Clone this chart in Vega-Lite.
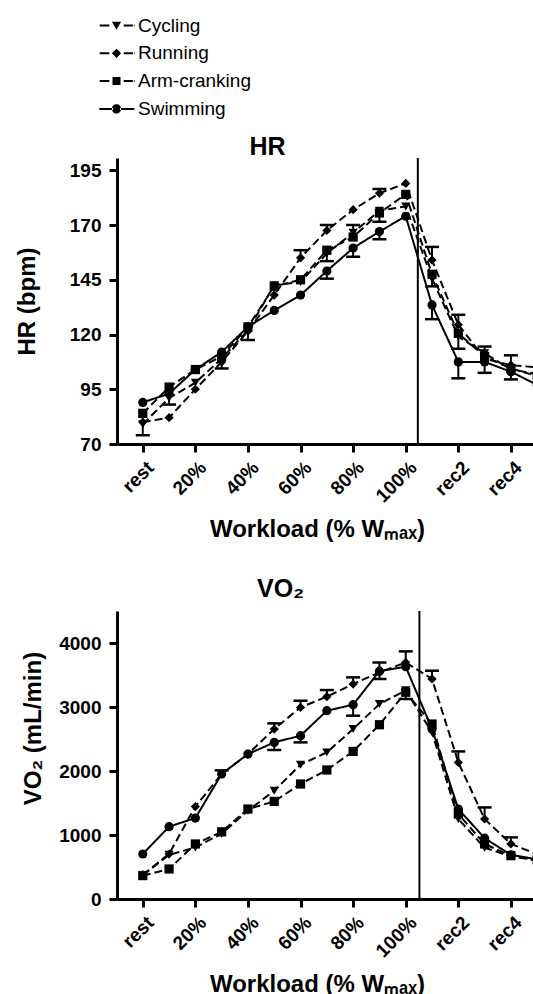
{
  "$schema": "https://vega.github.io/schema/vega-lite/v6.json",
  "background": "white",
  "padding": {"left": 15, "top": 16, "right": 0, "bottom": 0},
  "bounds": "flush",
  "spacing": 167,
  "config": {
    "font": "Liberation Sans",
    "view": {"stroke": null},
    "axis": {
      "grid": false,
      "domainColor": "black", "domainWidth": 3,
      "tickColor": "black", "tickWidth": 3, "tickSize": 8,
      "labelFont": "Liberation Sans", "labelFontWeight": "bold", "labelFontSize": 19, "labelColor": "black",
      "labelOverlap": false, "labelBound": false, "labelFlush": false,
      "titleFont": "Liberation Sans", "titleFontWeight": "bold", "titleFontSize": 24, "titleColor": "black"
    },
    "title": {"font": "Liberation Sans", "fontWeight": "bold", "fontSize": 25, "color": "black", "frame": "group", "anchor": "start"}
  },
  "datasets": {
    "legend": [
      {"series": "Cycling"}, {"series": "Running"}, {"series": "Arm-cranking"}, {"series": "Swimming"}
    ],
    "hr": [
      {"series":"Cycling","idx":0,"v":79},{"series":"Running","idx":0,"v":80},{"series":"Arm-cranking","idx":0,"v":84},{"series":"Swimming","idx":0,"v":89},
      {"series":"Cycling","idx":1,"v":91},{"series":"Running","idx":1,"v":82},{"series":"Arm-cranking","idx":1,"v":96},{"series":"Swimming","idx":1,"v":93},
      {"series":"Cycling","idx":2,"v":98},{"series":"Running","idx":2,"v":95},{"series":"Arm-cranking","idx":2,"v":104},{"series":"Swimming","idx":2,"v":104},
      {"series":"Cycling","idx":3,"v":109},{"series":"Running","idx":3,"v":107.5},{"series":"Arm-cranking","idx":3,"v":110},{"series":"Swimming","idx":3,"v":112},
      {"series":"Cycling","idx":4,"v":122},{"series":"Running","idx":4,"v":121.5},{"series":"Arm-cranking","idx":4,"v":123.5},{"series":"Swimming","idx":4,"v":123.5},
      {"series":"Cycling","idx":5,"v":142.5},{"series":"Running","idx":5,"v":138},{"series":"Arm-cranking","idx":5,"v":142},{"series":"Swimming","idx":5,"v":131},
      {"series":"Cycling","idx":6,"v":144},{"series":"Running","idx":6,"v":155},{"series":"Arm-cranking","idx":6,"v":145},{"series":"Swimming","idx":6,"v":138},
      {"series":"Cycling","idx":7,"v":157},{"series":"Running","idx":7,"v":167.5},{"series":"Arm-cranking","idx":7,"v":158.5},{"series":"Swimming","idx":7,"v":149},
      {"series":"Cycling","idx":8,"v":166.5},{"series":"Running","idx":8,"v":177},{"series":"Arm-cranking","idx":8,"v":164.5},{"series":"Swimming","idx":8,"v":159.5},
      {"series":"Cycling","idx":9,"v":176.5},{"series":"Running","idx":9,"v":184.5},{"series":"Arm-cranking","idx":9,"v":175.5},{"series":"Swimming","idx":9,"v":167},
      {"series":"Cycling","idx":10,"v":178.5},{"series":"Running","idx":10,"v":189},{"series":"Arm-cranking","idx":10,"v":184},{"series":"Swimming","idx":10,"v":174},
      {"series":"Cycling","idx":11,"v":145.5},{"series":"Running","idx":11,"v":154},{"series":"Arm-cranking","idx":11,"v":147.5},{"series":"Swimming","idx":11,"v":133.5},
      {"series":"Cycling","idx":12,"v":119},{"series":"Running","idx":12,"v":124.5},{"series":"Arm-cranking","idx":12,"v":120.5},{"series":"Swimming","idx":12,"v":107.5},
      {"series":"Cycling","idx":13,"v":111.5},{"series":"Running","idx":13,"v":109},{"series":"Arm-cranking","idx":13,"v":110},{"series":"Swimming","idx":13,"v":107.5},
      {"series":"Cycling","idx":14,"v":104},{"series":"Running","idx":14,"v":106},{"series":"Arm-cranking","idx":14,"v":104.5},{"series":"Swimming","idx":14,"v":103},
      {"series":"Cycling","idx":15,"v":102},{"series":"Running","idx":15,"v":105},{"series":"Arm-cranking","idx":15,"v":101},{"series":"Swimming","idx":15,"v":97}
    ],
    "hrerr": [
      {"series":"Cycling","idx":0,"v":79,"e":74},
      {"series":"Cycling","idx":1,"v":91,"e":88},
      {"series":"Running","idx":3,"v":107.5,"e":104.5},
      {"series":"Cycling","idx":4,"v":122,"e":117.5},
      {"series":"Running","idx":6,"v":155,"e":158.5},
      {"series":"Running","idx":7,"v":167.5,"e":170},
      {"series":"Arm-cranking","idx":7,"v":158.5,"e":153.5},
      {"series":"Swimming","idx":7,"v":149,"e":145.5},
      {"series":"Cycling","idx":8,"v":166.5,"e":170},
      {"series":"Swimming","idx":8,"v":159.5,"e":155.5},
      {"series":"Running","idx":9,"v":184.5,"e":186.5},
      {"series":"Arm-cranking","idx":9,"v":175.5,"e":171.5},
      {"series":"Swimming","idx":9,"v":167,"e":163.5},
      {"series":"Running","idx":11,"v":154,"e":160},
      {"series":"Arm-cranking","idx":11,"v":147.5,"e":142},
      {"series":"Swimming","idx":11,"v":133.5,"e":127},
      {"series":"Running","idx":12,"v":124.5,"e":129},
      {"series":"Arm-cranking","idx":12,"v":120.5,"e":113.5},
      {"series":"Swimming","idx":12,"v":107.5,"e":100},
      {"series":"Cycling","idx":13,"v":111.5,"e":114.5},
      {"series":"Swimming","idx":13,"v":107.5,"e":102.5},
      {"series":"Running","idx":14,"v":106,"e":110.5},
      {"series":"Arm-cranking","idx":14,"v":104.5,"e":99.5}
    ],
    "vo2": [
      {"series":"Cycling","idx":0,"v":370},{"series":"Running","idx":0,"v":380},{"series":"Arm-cranking","idx":0,"v":365},{"series":"Swimming","idx":0,"v":703},
      {"series":"Cycling","idx":1,"v":690},{"series":"Running","idx":1,"v":703},{"series":"Arm-cranking","idx":1,"v":469},{"series":"Swimming","idx":1,"v":1130},
      {"series":"Cycling","idx":2,"v":806},{"series":"Running","idx":2,"v":1445},{"series":"Arm-cranking","idx":2,"v":860},{"series":"Swimming","idx":2,"v":1265},
      {"series":"Cycling","idx":3,"v":1020},{"series":"Running","idx":3,"v":1953},{"series":"Arm-cranking","idx":3,"v":1050},{"series":"Swimming","idx":3,"v":1953},
      {"series":"Cycling","idx":4,"v":1380},{"series":"Running","idx":4,"v":2265},{"series":"Arm-cranking","idx":4,"v":1406},{"series":"Swimming","idx":4,"v":2265},
      {"series":"Cycling","idx":5,"v":1692},{"series":"Running","idx":5,"v":2656},{"series":"Arm-cranking","idx":5,"v":1525},{"series":"Swimming","idx":5,"v":2447},
      {"series":"Cycling","idx":6,"v":2098},{"series":"Running","idx":6,"v":2994},{"series":"Arm-cranking","idx":6,"v":1797},{"series":"Swimming","idx":6,"v":2552},
      {"series":"Cycling","idx":7,"v":2291},{"series":"Running","idx":7,"v":3161},{"series":"Arm-cranking","idx":7,"v":2016},{"series":"Swimming","idx":7,"v":2942},
      {"series":"Cycling","idx":8,"v":2656},{"series":"Running","idx":8,"v":3359},{"series":"Arm-cranking","idx":8,"v":2306},{"series":"Swimming","idx":8,"v":3036},
      {"series":"Cycling","idx":9,"v":3047},{"series":"Running","idx":9,"v":3541},{"series":"Arm-cranking","idx":9,"v":2723},{"series":"Swimming","idx":9,"v":3560},
      {"series":"Cycling","idx":10,"v":3260},{"series":"Running","idx":10,"v":3697},{"series":"Arm-cranking","idx":10,"v":3230},{"series":"Swimming","idx":10,"v":3630},
      {"series":"Cycling","idx":11,"v":2603},{"series":"Running","idx":11,"v":3438},{"series":"Arm-cranking","idx":11,"v":2734},{"series":"Swimming","idx":11,"v":2656},
      {"series":"Cycling","idx":12,"v":1250},{"series":"Running","idx":12,"v":2134},{"series":"Arm-cranking","idx":12,"v":1328},{"series":"Swimming","idx":12,"v":1406},
      {"series":"Cycling","idx":13,"v":800},{"series":"Running","idx":13,"v":1250},{"series":"Arm-cranking","idx":13,"v":860},{"series":"Swimming","idx":13,"v":950},
      {"series":"Cycling","idx":14,"v":670},{"series":"Running","idx":14,"v":860},{"series":"Arm-cranking","idx":14,"v":677},{"series":"Swimming","idx":14,"v":690},
      {"series":"Cycling","idx":15,"v":600},{"series":"Running","idx":15,"v":700},{"series":"Arm-cranking","idx":15,"v":610},{"series":"Swimming","idx":15,"v":620}
    ],
    "vo2err": [
      {"series":"Running","idx":3,"v":1953,"e":2010},
      {"series":"Running","idx":5,"v":2656,"e":2744},
      {"series":"Swimming","idx":5,"v":2447,"e":2328},
      {"series":"Running","idx":6,"v":2994,"e":3098},
      {"series":"Swimming","idx":6,"v":2552,"e":2447},
      {"series":"Running","idx":7,"v":3161,"e":3265},
      {"series":"Running","idx":8,"v":3359,"e":3463},
      {"series":"Swimming","idx":8,"v":3036,"e":2864},
      {"series":"Running","idx":9,"v":3541,"e":3697},
      {"series":"Swimming","idx":9,"v":3560,"e":3438},
      {"series":"Running","idx":10,"v":3697,"e":3869},
      {"series":"Arm-cranking","idx":10,"v":3230,"e":3125},
      {"series":"Running","idx":11,"v":3438,"e":3567},
      {"series":"Running","idx":12,"v":2134,"e":2306},
      {"series":"Running","idx":13,"v":1250,"e":1431},
      {"series":"Running","idx":14,"v":860,"e":963}
    ]
  },
  "resolve": {"scale": {"shape": "independent"}, "legend": {"shape": "independent"}},
  "vconcat": [
    {
      "width": 416,
      "height": 286,
      "resolve": {"scale": {"shape": "independent"}, "legend": {"shape": "independent"}, "axis": {"x": "independent"}},
      "layer": [
        {
          "data": {"name": "hr"},
          "mark": {"type": "line", "color": "black", "strokeWidth": 2, "clip": true},
          "encoding": {
            "x": {"field": "idx", "type": "quantitative", "scale": {"domain": [-0.98, 14.84], "nice": false, "zero": false},
              "axis": {"values": [0, 2, 4, 6, 8, 10, 12, 14], "labelExpr": "datum.value == 0 ? 'rest' : datum.value <= 10 ? (datum.value * 10) + '%' : 'rec' + (datum.value - 10)", "labelAngle": -45, "labelAlign": "right", "labelBaseline": "top", "labelOffset": 1, "labelPadding": 6, "title": "Workload (% Wₘₐₓ)", "titleX": 200, "titlePadding": 12}},
            "y": {"field": "v", "type": "quantitative", "scale": {"domain": [70, 200.6], "nice": false, "zero": false},
              "axis": {"values": [70, 95, 120, 145, 170, 195], "title": "HR (bpm)", "labelPadding": 8, "titlePadding": 30}},
            "detail": {"field": "series"},
            "strokeDash": {"field": "series", "type": "nominal", "scale": {"domain": ["Cycling", "Running", "Arm-cranking", "Swimming"], "range": [[8, 4], [8, 4], [8, 4], [1, 0]]}, "legend": null}
          }
        },
        {
          "data": {"name": "hrerr"},
          "mark": {"type": "rule", "color": "black", "strokeWidth": 2},
          "encoding": {
            "x": {"field": "idx", "type": "quantitative", "axis": null},
            "y": {"field": "v", "type": "quantitative"},
            "y2": {"field": "e"}
          }
        },
        {
          "data": {"name": "hrerr"},
          "mark": {"type": "tick", "orient": "horizontal", "color": "black", "size": 14, "thickness": 2.5, "opacity": 1},
          "encoding": {
            "x": {"field": "idx", "type": "quantitative", "axis": null},
            "y": {"field": "e", "type": "quantitative"}
          }
        },
        {
          "data": {"name": "hr"},
          "transform": [{"filter": "datum.series == 'Cycling'"}],
          "mark": {"type": "point", "shape": "triangle-down", "filled": true, "color": "black", "opacity": 1, "size": 85, "clip": true},
          "encoding": {"x": {"field": "idx", "type": "quantitative", "axis": null}, "y": {"field": "v", "type": "quantitative"}}
        },
        {
          "data": {"name": "hr"},
          "transform": [{"filter": "datum.series == 'Running'"}],
          "mark": {"type": "point", "shape": "diamond", "filled": true, "color": "black", "opacity": 1, "size": 85, "clip": true},
          "encoding": {"x": {"field": "idx", "type": "quantitative", "axis": null}, "y": {"field": "v", "type": "quantitative"}}
        },
        {
          "data": {"name": "hr"},
          "transform": [{"filter": "datum.series == 'Arm-cranking'"}],
          "mark": {"type": "point", "shape": "square", "filled": true, "color": "black", "opacity": 1, "size": 85, "clip": true},
          "encoding": {"x": {"field": "idx", "type": "quantitative", "axis": null}, "y": {"field": "v", "type": "quantitative"}}
        },
        {
          "data": {"name": "hr"},
          "transform": [{"filter": "datum.series == 'Swimming'"}],
          "mark": {"type": "point", "shape": "circle", "filled": true, "color": "black", "opacity": 1, "size": 85, "clip": true},
          "encoding": {"x": {"field": "idx", "type": "quantitative", "axis": null}, "y": {"field": "v", "type": "quantitative"}}
        },
        {
          "data": {"values": [{}]},
          "mark": {"type": "rule", "color": "black", "strokeWidth": 2},
          "encoding": {"x": {"datum": 10.46, "type": "quantitative",
            "axis": {"orient": "top", "title": "HR", "domain": false, "ticks": false, "labels": false, "titleFontSize": 25, "titleX": 150, "titleY": -4, "titleBaseline": "alphabetic", "titleAlign": "center", "titleAngle": 0}}}
        },
        {
          "data": {"name": "legend"},
          "mark": {"type": "point", "filled": true, "color": "black", "opacity": 0, "size": 64},
          "encoding": {
            "shape": {"field": "series", "type": "nominal",
              "scale": {"domain": ["Cycling", "Running", "Arm-cranking", "Swimming"],
                "range": [
                  "M-4.2,-0.25H-1.8V0.25H-4.2Z M1.8,-0.25H4.1V0.25H1.8Z M4.35,-0.2H4.55V0.2H4.35Z M-1.15,-0.95H1.15L0,1.05Z",
                  "M-4.2,-0.25H-1.8V0.25H-4.2Z M1.8,-0.25H4.1V0.25H1.8Z M4.35,-0.2H4.55V0.2H4.35Z M0,-1.15L1.15,0L0,1.15L-1.15,0Z",
                  "M-4.2,-0.25H-1.8V0.25H-4.2Z M1.8,-0.25H4.1V0.25H1.8Z M4.35,-0.2H4.55V0.2H4.35Z M-1,-1H1V1H-1Z",
                  "M-4.3,-0.25H-0.9V0.25H-4.3Z M0.9,-0.25H4.45V0.25H0.9Z M-1.15,0A1.15,1.15 0 1,0 1.15,0A1.15,1.15 0 1,0 -1.15,0Z"
                ]},
              "legend": {"title": null, "orient": "none", "legendX": -10, "legendY": -142, "symbolSize": 64, "symbolStrokeWidth": 0, "symbolFillColor": "black", "symbolStrokeColor": "black", "symbolOpacity": 1, "labelFont": "Liberation Sans", "labelFontSize": 19, "labelColor": "black", "labelOffset": 12, "rowPadding": 7.8, "labelLimit": 300}
            }
          }
        }
      ]
    },
    {
      "width": 416,
      "height": 288,
      "title": {"text": "VO₂", "dx": 140, "offset": 8},
      "layer": [
        {
          "data": {"name": "vo2"},
          "mark": {"type": "line", "color": "black", "strokeWidth": 2, "clip": true},
          "encoding": {
            "x": {"field": "idx", "type": "quantitative", "scale": {"domain": [-0.98, 14.84], "nice": false, "zero": false},
              "axis": {"values": [0, 2, 4, 6, 8, 10, 12, 14], "labelExpr": "datum.value == 0 ? 'rest' : datum.value <= 10 ? (datum.value * 10) + '%' : 'rec' + (datum.value - 10)", "labelAngle": -45, "labelAlign": "right", "labelBaseline": "top", "labelOffset": 1, "labelPadding": 6, "title": "Workload (% Wₘₐₓ)", "titleX": 200, "titlePadding": 12}},
            "y": {"field": "v", "type": "quantitative", "scale": {"domain": [0, 4500], "nice": false, "zero": true},
              "axis": {"values": [0, 1000, 2000, 3000, 4000], "format": "d", "title": "VO₂ (mL/min)", "labelPadding": 8, "titlePadding": 13, "titleY": 117}},
            "detail": {"field": "series"},
            "strokeDash": {"field": "series", "type": "nominal", "scale": {"domain": ["Cycling", "Running", "Arm-cranking", "Swimming"], "range": [[8, 4], [8, 4], [8, 4], [1, 0]]}, "legend": null}
          }
        },
        {
          "data": {"name": "vo2err"},
          "mark": {"type": "rule", "color": "black", "strokeWidth": 2},
          "encoding": {
            "x": {"field": "idx", "type": "quantitative"},
            "y": {"field": "v", "type": "quantitative"},
            "y2": {"field": "e"}
          }
        },
        {
          "data": {"name": "vo2err"},
          "mark": {"type": "tick", "orient": "horizontal", "color": "black", "size": 14, "thickness": 2.5, "opacity": 1},
          "encoding": {
            "x": {"field": "idx", "type": "quantitative"},
            "y": {"field": "e", "type": "quantitative"}
          }
        },
        {
          "data": {"name": "vo2"},
          "transform": [{"filter": "datum.series == 'Cycling'"}],
          "mark": {"type": "point", "shape": "triangle-down", "filled": true, "color": "black", "opacity": 1, "size": 85, "clip": true},
          "encoding": {"x": {"field": "idx", "type": "quantitative"}, "y": {"field": "v", "type": "quantitative"}}
        },
        {
          "data": {"name": "vo2"},
          "transform": [{"filter": "datum.series == 'Running'"}],
          "mark": {"type": "point", "shape": "diamond", "filled": true, "color": "black", "opacity": 1, "size": 85, "clip": true},
          "encoding": {"x": {"field": "idx", "type": "quantitative"}, "y": {"field": "v", "type": "quantitative"}}
        },
        {
          "data": {"name": "vo2"},
          "transform": [{"filter": "datum.series == 'Arm-cranking'"}],
          "mark": {"type": "point", "shape": "square", "filled": true, "color": "black", "opacity": 1, "size": 85, "clip": true},
          "encoding": {"x": {"field": "idx", "type": "quantitative"}, "y": {"field": "v", "type": "quantitative"}}
        },
        {
          "data": {"name": "vo2"},
          "transform": [{"filter": "datum.series == 'Swimming'"}],
          "mark": {"type": "point", "shape": "circle", "filled": true, "color": "black", "opacity": 1, "size": 85, "clip": true},
          "encoding": {"x": {"field": "idx", "type": "quantitative"}, "y": {"field": "v", "type": "quantitative"}}
        },
        {
          "data": {"values": [{}]},
          "mark": {"type": "rule", "color": "black", "strokeWidth": 2},
          "encoding": {"x": {"datum": 10.52, "type": "quantitative"}}
        }
      ]
    }
  ]
}
